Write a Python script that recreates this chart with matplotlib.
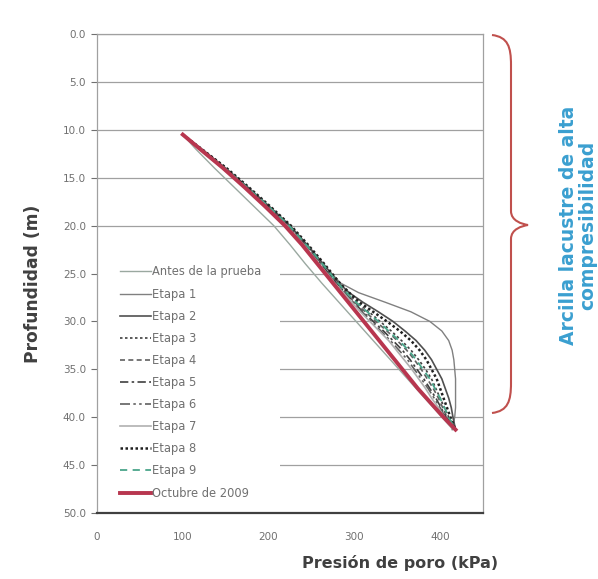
import matplotlib
matplotlib.use("Agg")
import matplotlib.pyplot as plt
from matplotlib.path import Path
from matplotlib.patches import PathPatch, Rectangle

plt.rcParams['font.family'] = ['DejaVu Sans']

# ---------------- data ----------------
depth = [10.5, 12, 14, 16, 18, 20, 22, 24, 26, 27, 28, 29, 30, 31, 32, 33, 34, 35, 36, 37, 38, 39, 40, 41.3]

antes = [100, 115, 137, 160, 183, 206, 225, 243, 262, 272, 282, 292, 302, 312, 322, 332, 342, 352, 362, 372, 382, 392, 402, 415]
etapa1 = [100, 121, 149, 175, 200, 224, 244, 263, 284, 305, 336, 366, 388, 402, 410, 414, 416, 417, 418, 418, 418, 418, 417, 414]
etapa2 = [100, 122, 150, 176, 201, 225, 245, 264, 282, 294, 310, 328, 345, 359, 372, 382, 390, 396, 402, 406, 410, 413, 415, 418]
etapa3 = [100, 121, 149, 175, 200, 224, 244, 263, 281, 292, 303, 317, 330, 343, 355, 366, 375, 383, 390, 395, 400, 405, 410, 418]
etapa4 = [100, 121, 148, 174, 199, 223, 243, 262, 280, 290, 300, 313, 325, 338, 350, 361, 370, 378, 385, 392, 398, 403, 408, 418]
etapa5 = [100, 120, 148, 174, 198, 222, 242, 261, 279, 289, 299, 310, 322, 334, 345, 356, 365, 373, 381, 388, 395, 401, 407, 418]
etapa6 = [100, 120, 147, 173, 198, 222, 242, 260, 278, 288, 298, 309, 320, 331, 342, 352, 362, 370, 378, 386, 393, 400, 406, 418]
etapa7 = [100, 119, 146, 172, 197, 221, 241, 259, 277, 287, 297, 307, 318, 329, 340, 349, 358, 367, 375, 383, 390, 398, 405, 418]
etapa8 = [100, 122, 151, 177, 202, 226, 246, 265, 283, 294, 306, 322, 338, 353, 366, 376, 384, 390, 396, 400, 404, 408, 412, 418]
etapa9 = [100, 121, 149, 175, 200, 224, 244, 263, 281, 291, 302, 315, 328, 340, 352, 363, 372, 380, 388, 394, 400, 405, 410, 418]
octubre = [100, 120, 147, 172, 196, 219, 239, 257, 275, 284, 293, 302, 311, 320, 329, 338, 347, 356, 365, 374, 384, 394, 404, 418]

series_names = ["Antes de la prueba", "Etapa 1", "Etapa 2", "Etapa 3", "Etapa 4",
                "Etapa 5", "Etapa 6", "Etapa 7", "Etapa 8", "Etapa 9", "Octubre de 2009"]
series_values = [antes, etapa1, etapa2, etapa3, etapa4, etapa5, etapa6, etapa7, etapa8, etapa9, octubre]

x_ticks = [0, 100, 200, 300, 400]
y_ticks = [0, 5, 10, 15, 20, 25, 30, 35, 40, 45, 50]

# ---------------- styles ----------------
styles = [
    dict(color="#9aa8a0", lw=1.0, ls="-"),
    dict(color="#808080", lw=1.0, ls="-"),
    dict(color="#505050", lw=1.2, ls="-"),
    dict(color="#404040", lw=1.2, ls=(0, (1.5, 1.5))),
    dict(color="#606060", lw=1.2, ls=(0, (3, 2))),
    dict(color="#404040", lw=1.2, ls=(0, (5, 2, 1.5, 2))),
    dict(color="#606060", lw=1.2, ls=(0, (6, 2, 1.5, 2, 1.5, 2))),
    dict(color="#b0b0b0", lw=1.2, ls="-"),
    dict(color="#202020", lw=1.8, ls=(0, (1, 1))),
    dict(color="#4aa58a", lw=1.3, ls=(0, (4, 3))),
    dict(color="#b8364f", lw=2.8, ls="-"),
]

W, H = 598, 579
fig = plt.figure(figsize=(W / 100, H / 100), dpi=100)
ax_l, ax_r, ax_t, ax_b = 97, 483, 34, 513
ax = fig.add_axes([ax_l / W, 1 - ax_b / H, (ax_r - ax_l) / W, (ax_b - ax_t) / H])

def ax_x(px):
    return (px - ax_l) / (ax_r - ax_l)

def ax_y(py):
    return (ax_b - py) / (ax_b - ax_t)

for name, vals, st in zip(series_names, series_values, styles):
    ax.plot(vals, depth, label=name, zorder=3, **st)

ax.set_xlim(0, 450)
ax.set_ylim(50, 0)
ax.set_xticks(x_ticks)
ax.set_yticks(y_ticks)
ax.set_xticklabels([str(v) for v in x_ticks])
ax.set_yticklabels([f"{v:.1f}" for v in y_ticks])
ax.tick_params(axis="both", labelsize=7.5, colors="#707070", length=4, width=0.8)
ax.tick_params(axis="x", length=0, pad=14)
ax.tick_params(axis="y", pad=4)
ax.yaxis.grid(True, color="#a0a0a0", lw=0.9, zorder=0)
ax.set_axisbelow(True)

for side in ["left", "top", "right"]:
    ax.spines[side].set_color("#a0a0a0")
    ax.spines[side].set_linewidth(0.9)
ax.spines["bottom"].set_color("#404040")
ax.spines["bottom"].set_linewidth(1.6)

fig.text(33 / W, 1 - 284 / H, "Profundidad (m)", rotation=90, fontsize=12.3, fontweight="bold",
         color="#404040", ha="center", va="center")
fig.text(400 / W, 1 - 563 / H, "Presión de poro (kPa)", fontsize=11.5, fontweight="bold",
         color="#404040", ha="center", va="center")

# white legend background box
ax.add_patch(Rectangle((ax_x(98), ax_y(505)), ax_x(280) - ax_x(98), ax_y(260) - ax_y(505),
                       transform=ax.transAxes, facecolor="white", edgecolor="none", zorder=1))

leg = ax.legend(loc="center left", bbox_to_anchor=(ax_x(120), ax_y(382.5)), frameon=False,
                fontsize=8.3, handlelength=2.7, handletextpad=0.1, labelspacing=0.79,
                borderpad=0, borderaxespad=0)
leg.set_zorder(4)
for t in leg.get_texts():
    t.set_color("#707070")

# ---------------- brace ----------------
def fx(px):
    return px / W

def fy(py):
    return 1 - py / H

x0, x1, xt = 492, 511, 528
y0, ym, y1 = 35, 225, 413
verts = [
    (x0, y0), (x1 - 3, y0 + 2), (x1, y0 + 12), (x1, y0 + 30),
    (x1, ym - 14),
    (x1, ym - 4), (xt - 6, ym - 1), (xt, ym),
    (xt - 6, ym + 1), (x1, ym + 4), (x1, ym + 14),
    (x1, y1 - 30),
    (x1, y1 - 12), (x1 - 3, y1 - 2), (x0, y1),
]
codes = [Path.MOVETO, Path.CURVE4, Path.CURVE4, Path.CURVE4,
         Path.LINETO,
         Path.CURVE4, Path.CURVE4, Path.CURVE4,
         Path.CURVE4, Path.CURVE4, Path.CURVE4,
         Path.LINETO,
         Path.CURVE4, Path.CURVE4, Path.CURVE4]
path = Path([(fx(a), fy(b)) for a, b in verts], codes)
fig.add_artist(PathPatch(path, facecolor="none", edgecolor="#c0504d", lw=1.5,
                         transform=fig.transFigure))

fig.text(578 / W, 1 - 225 / H, "Arcilla lacustre de alta\ncompresibilidad", rotation=90,
         fontsize=13.5, fontweight="bold", color="#3a9fd0", ha="center", va="center",
         multialignment="center", linespacing=1.0)

fig.savefig("out.png", dpi=100)
